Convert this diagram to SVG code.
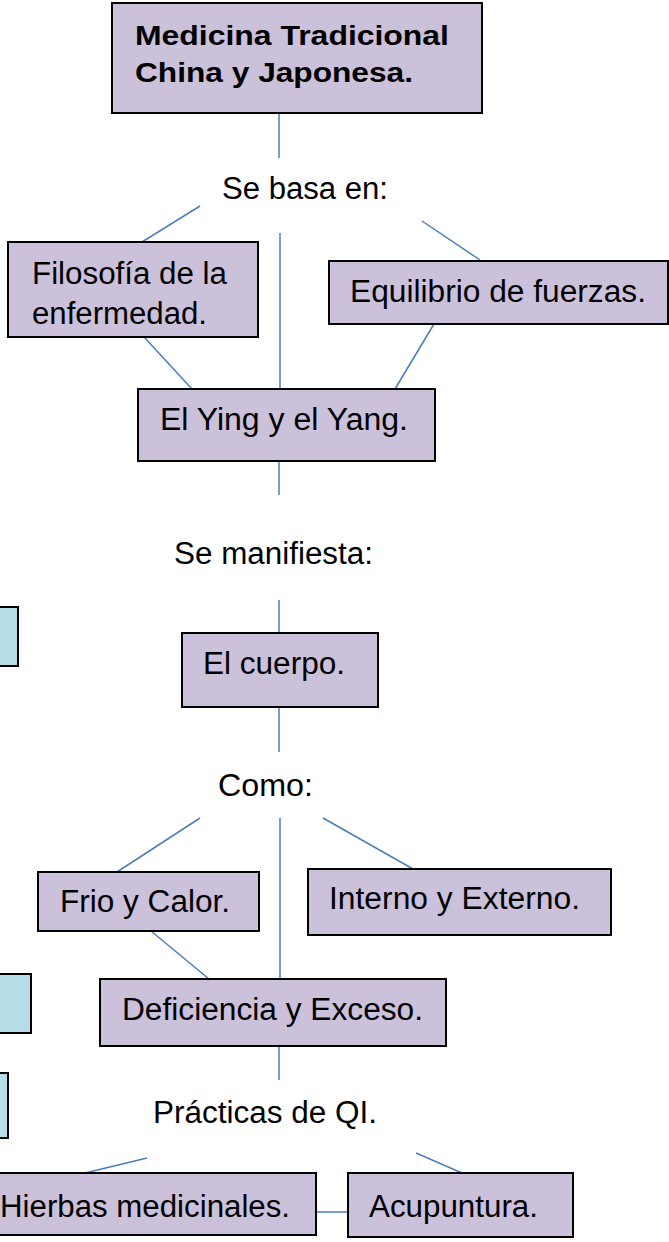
<svg xmlns="http://www.w3.org/2000/svg" width="669" height="1242" viewBox="0 0 669 1242">
<style>
.n{fill:#CCC1DA;stroke:#000;stroke-width:2}
.b{fill:#B7DEE8;stroke:#000;stroke-width:2}
.t{font-family:"Liberation Sans",Arial,sans-serif;font-size:31px;fill:#000}
.tb{font-family:"Liberation Sans",Arial,sans-serif;font-size:27px;font-weight:bold;fill:#000}
#connectors line{stroke:#4A7EBB;stroke-width:1.5}
</style>
<rect width="669" height="1242" fill="#fff"/>
<g id="connectors">
<line x1="279" y1="113" x2="279" y2="158"/>
<line x1="200" y1="206" x2="142" y2="242"/>
<line x1="422" y1="221" x2="480" y2="260"/>
<line x1="280" y1="233" x2="280" y2="389"/>
<line x1="144" y1="337" x2="192" y2="389"/>
<line x1="434" y1="324" x2="395" y2="389"/>
<line x1="279" y1="461" x2="279" y2="495"/>
<line x1="279" y1="600" x2="279" y2="633"/>
<line x1="279" y1="707" x2="279" y2="752"/>
<line x1="200" y1="818" x2="117" y2="872"/>
<line x1="280" y1="818" x2="280" y2="979"/>
<line x1="323" y1="818" x2="413" y2="869"/>
<line x1="151" y1="931" x2="209" y2="979"/>
<line x1="279" y1="1046" x2="279" y2="1080"/>
<line x1="147" y1="1158" x2="85" y2="1173"/>
<line x1="416" y1="1153" x2="462" y2="1173"/>
<line x1="316" y1="1212" x2="348" y2="1212"/>
</g>
<g id="n-top"><rect class="n" x="112" y="3" width="370" height="110"/>
<text class="tb" x="135" y="45" textLength="314" lengthAdjust="spacingAndGlyphs">Medicina Tradicional</text>
<text class="tb" x="135" y="82" textLength="278" lengthAdjust="spacingAndGlyphs">China y Japonesa.</text></g>
<g id="l-sebasa"><text class="t" x="222" y="199" textLength="166" lengthAdjust="spacingAndGlyphs">Se basa en:</text></g>
<g id="n-filosofia"><rect class="n" x="8" y="242" width="250" height="95"/>
<text class="t" x="32" y="284" textLength="195" lengthAdjust="spacingAndGlyphs">Filosofía de la</text>
<text class="t" x="32" y="324" textLength="175" lengthAdjust="spacingAndGlyphs">enfermedad.</text></g>
<g id="n-equilibrio"><rect class="n" x="329" y="261" width="339" height="63"/>
<text class="t" x="350" y="302" textLength="296" lengthAdjust="spacingAndGlyphs">Equilibrio de fuerzas.</text></g>
<g id="n-ying"><rect class="n" x="138" y="389" width="297" height="72"/>
<text class="t" x="160" y="430" textLength="248" lengthAdjust="spacingAndGlyphs">El Ying y el Yang.</text></g>
<g id="l-manifiesta"><text class="t" x="174" y="564" textLength="199" lengthAdjust="spacingAndGlyphs">Se manifiesta:</text></g>
<g id="n-blue1"><rect class="b" x="-5" y="607" width="23" height="59"/></g>
<g id="n-cuerpo"><rect class="n" x="182" y="633" width="196" height="74"/>
<text class="t" x="203" y="674" textLength="142" lengthAdjust="spacingAndGlyphs">El cuerpo.</text></g>
<g id="l-como"><text class="t" x="218" y="796" textLength="95" lengthAdjust="spacingAndGlyphs">Como:</text></g>
<g id="n-frio"><rect class="n" x="38" y="872" width="221" height="59"/>
<text class="t" x="60" y="912" textLength="170" lengthAdjust="spacingAndGlyphs">Frio y Calor.</text></g>
<g id="n-interno"><rect class="n" x="308" y="869" width="303" height="66"/>
<text class="t" x="329" y="909" textLength="251" lengthAdjust="spacingAndGlyphs">Interno y Externo.</text></g>
<g id="n-blue2"><rect class="b" x="-5" y="974" width="36" height="59"/></g>
<g id="n-deficiencia"><rect class="n" x="100" y="979" width="346" height="67"/>
<text class="t" x="122" y="1020" textLength="301" lengthAdjust="spacingAndGlyphs">Deficiencia y Exceso.</text></g>
<g id="n-blue3"><rect class="b" x="-5" y="1073" width="13" height="65"/></g>
<g id="l-practicas"><text class="t" x="153" y="1123" textLength="224" lengthAdjust="spacingAndGlyphs">Prácticas de QI.</text></g>
<g id="n-hierbas"><rect class="n" x="-5" y="1173" width="321" height="62"/>
<text class="t" x="0" y="1217" textLength="290" lengthAdjust="spacingAndGlyphs">Hierbas medicinales.</text></g>
<g id="n-acupuntura"><rect class="n" x="348" y="1173" width="225" height="64"/>
<text class="t" x="369" y="1217" textLength="169" lengthAdjust="spacingAndGlyphs">Acupuntura.</text></g>
</svg>
